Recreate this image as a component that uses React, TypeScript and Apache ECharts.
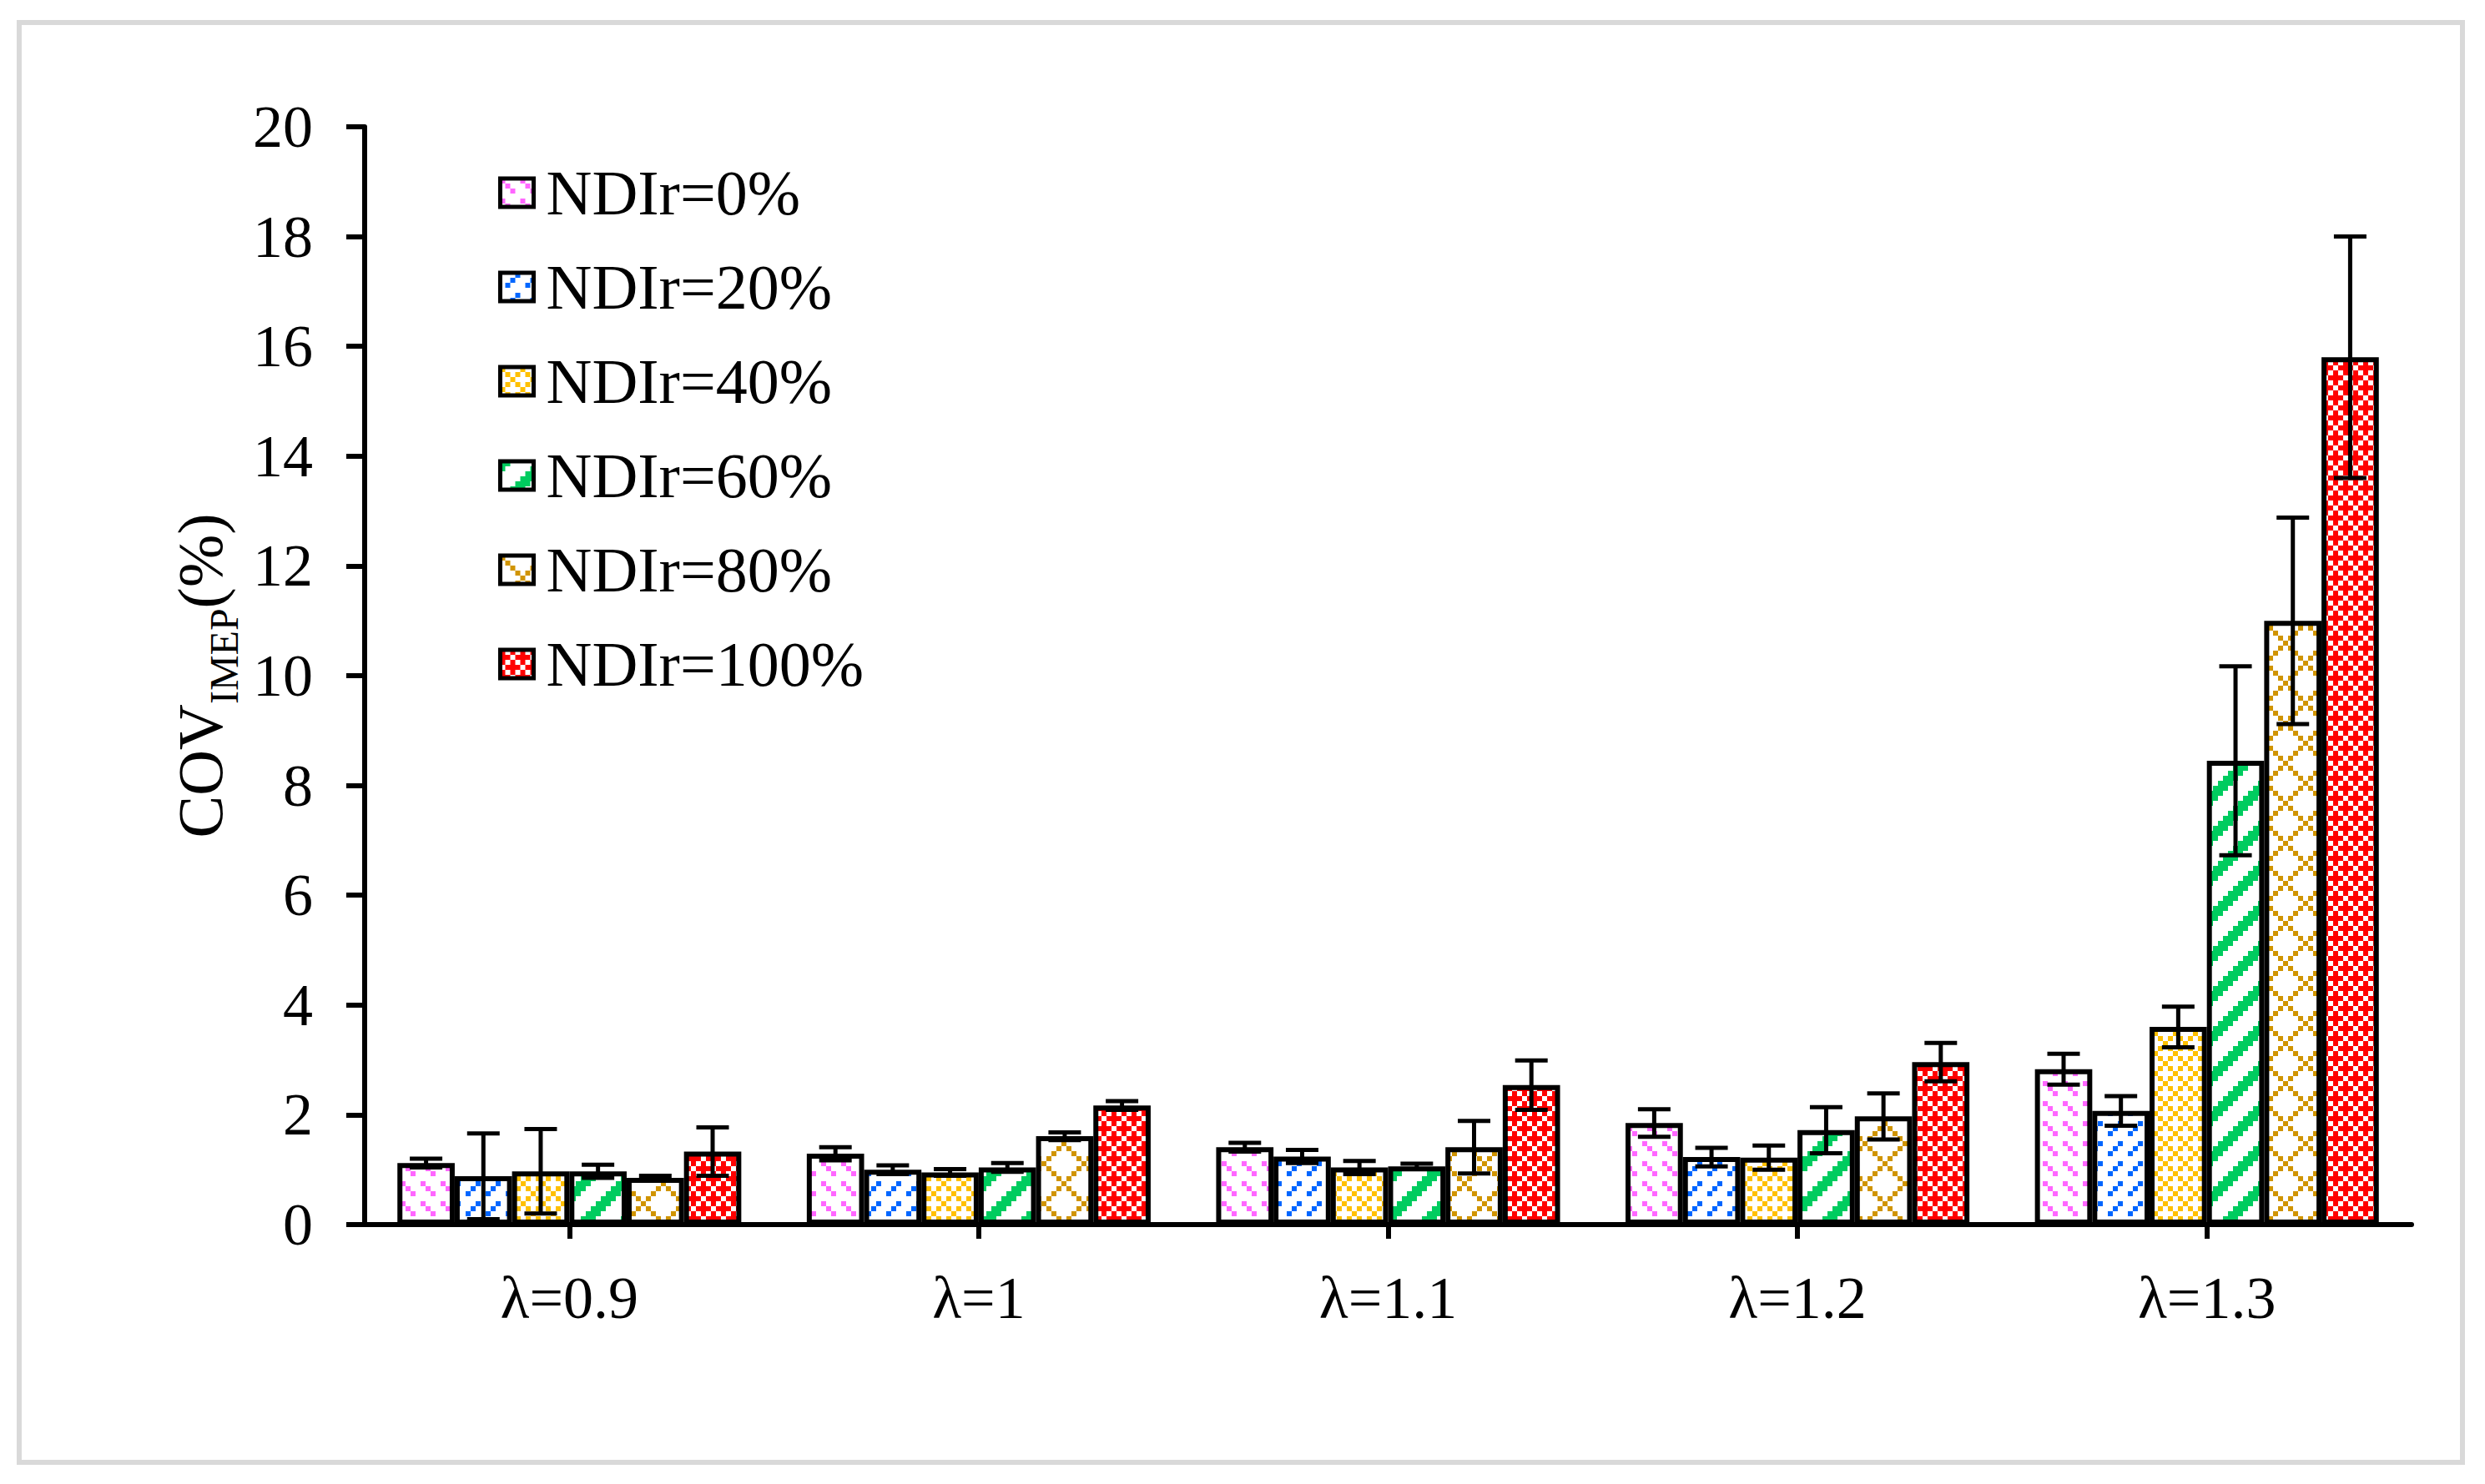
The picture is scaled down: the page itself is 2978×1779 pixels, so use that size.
import React, { useEffect, useRef } from 'react';
import * as echarts from 'echarts';

const categories = ['λ=0.9', 'λ=1', 'λ=1.1', 'λ=1.2', 'λ=1.3'];
const seriesNames = ['NDIr=0%', 'NDIr=20%', 'NDIr=40%', 'NDIr=60%', 'NDIr=80%', 'NDIr=100%'];

const ndir0 = [1.12, 1.29, 1.41, 1.85, 2.83];
const ndir20 = [0.88, 1.0, 1.24, 1.23, 2.07];
const ndir40 = [0.97, 0.95, 1.04, 1.22, 3.6];
const ndir60 = [0.97, 1.04, 1.06, 1.72, 8.45];
const ndir80 = [0.85, 1.61, 1.41, 1.97, 11.0];
const ndir100 = [1.33, 2.17, 2.54, 2.96, 15.8];

const err0 = [0.08, 0.12, 0.08, 0.25, 0.28];
const err20 = [0.78, 0.08, 0.12, 0.17, 0.27];
const err40 = [0.77, 0.06, 0.12, 0.22, 0.37];
const err60 = [0.12, 0.08, 0.05, 0.42, 1.72];
const err80 = [0.04, 0.07, 0.48, 0.42, 1.88];
const err100 = [0.44, 0.08, 0.45, 0.35, 2.2];

const yTicks = { min: 0, max: 20, interval: 2 };

const FONT = '"Liberation Serif", "Times New Roman", serif';

const colors = ['#ff66ff', '#0066ff', '#ffc000', '#00cc5f', '#d09400', '#ff0000'];

const bitmaps: string[][] = [
  ['X...X...', '.X...X..', '..X...X.', '........', 'X...X...', '.X...X..', '..X...X.', '........'],
  ['...X...X', '..X...X.', '.X...X..', '........', '...X...X', '..X...X.', '.X...X..', '........'],
  ['X...X...', '.X.X.X.X', '..X...X.', '.X.X.X.X', 'X...X...', '.X.X.X.X', '..X...X.', '.X.X.X.X'],
  ['XX.....X', 'X.....XX', '.....XXX', '....XXX.', '...XXX..', '..XXX...', '.XXX....', 'XXX.....'],
  ['X.......', '.X.....X', '..X...X.', '...X.X..', '....X...', '...X.X..', '..X...X.', '.X.....X'],
  ['X.X.X.X.', 'XX.XXX.X', 'X.X.X.X.', '.XXX.XXX', 'X.X.X.X.', 'XX.XXX.X', 'X.X.X.X.', '.XXX.XXX'],
];

function makePattern(color: string, bm: string[]) {
  const px = 6;
  const n = 8;
  const c = document.createElement('canvas');
  c.width = px * n;
  c.height = px * n;
  const ctx = c.getContext('2d')!;
  ctx.fillStyle = '#ffffff';
  ctx.fillRect(0, 0, c.width, c.height);
  ctx.fillStyle = color;
  for (let y = 0; y < n; y++) {
    for (let x = 0; x < n; x++) {
      if (bm[y][x] === 'X') ctx.fillRect(x * px, y * px, px, px);
    }
  }
  return { image: c, repeat: 'repeat', imageWidth: c.width, imageHeight: c.height };
}

const CAT_GAP = 0.16;

export default function App() {
  const ref = useRef<HTMLDivElement>(null);
  useEffect(() => {
    if (!ref.current) return;
    const chart = echarts.init(ref.current, null, { renderer: 'svg' });
    const values = [ndir0, ndir20, ndir40, ndir60, ndir80, ndir100];
    const errs = [err0, err20, err40, err60, err80, err100];
    const nSeries = values.length;

    const barSeries = values.map((vals, i) => ({
      type: 'bar',
      name: seriesNames[i],
      data: vals,
      barGap: '0%',
      barCategoryGap: CAT_GAP * 100 + '%',
      itemStyle: {
        color: makePattern(colors[i], bitmaps[i]),
        borderColor: '#000',
        borderWidth: 6,
      },
      emphasis: { disabled: true },
    }));

    const errData: number[][] = [];
    values.forEach((vals, si) => {
      vals.forEach((v, ci) => {
        errData.push([ci, v, errs[si][ci], si]);
      });
    });

    const option: any = {
      animation: false,
      backgroundColor: '#ffffff',
      graphic: [
        {
          type: 'rect',
          silent: true,
          z: -10,
          shape: { x: 23, y: 27, width: 2928, height: 1726 },
          style: { fill: 'none', stroke: '#d9d9d9', lineWidth: 6 },
        },
      ],
      grid: { left: 437, right: 88, top: 152, bottom: 311, containLabel: false },
      legend: {
        orient: 'vertical',
        left: 592,
        top: 181,
        data: seriesNames,
        itemWidth: 40,
        itemHeight: 34,
        itemGap: 23,
        icon: 'rect',
        itemStyle: { borderColor: '#000', borderWidth: 5 },
        textStyle: { fontFamily: FONT, fontSize: 76, color: '#000', lineHeight: 90, padding: [0, 0, 0, 10] },
        selectedMode: false,
      },
      xAxis: {
        type: 'category',
        data: categories,
        axisLine: { show: true, lineStyle: { color: '#000', width: 6 } },
        axisTick: { show: true, alignWithLabel: true, length: 17, lineStyle: { color: '#000', width: 6 } },
        axisLabel: { fontFamily: FONT, fontSize: 72, color: '#000', margin: 52 },
        splitLine: { show: false },
      },
      yAxis: {
        type: 'value',
        min: yTicks.min,
        max: yTicks.max,
        interval: yTicks.interval,
        axisLine: { show: true, lineStyle: { color: '#000', width: 6 } },
        axisTick: { show: true, length: 22, lineStyle: { color: '#000', width: 6 } },
        axisLabel: { fontFamily: FONT, fontSize: 72, color: '#000', margin: 62 },
        splitLine: { show: false },
        name: '{a|COV}{b|IMEP}{a|(%)}',
        nameLocation: 'middle',
        nameRotate: 90,
        nameGap: 140,
        nameTextStyle: {
          fontFamily: FONT,
          color: '#000',
          rich: {
            a: { fontFamily: FONT, fontSize: 76, color: '#000', verticalAlign: 'bottom', padding: [0, 0, 14, 0] },
            b: { fontFamily: FONT, fontSize: 48, color: '#000', verticalAlign: 'bottom' },
          },
        },
      },
      series: [
        ...barSeries,
        {
          type: 'custom',
          name: 'errorbars',
          data: errData,
          encode: { x: 0, y: 1 },
          z: 10,
          silent: true,
          renderItem: (params: any, api: any) => {
            const ci = api.value(0);
            const v = api.value(1);
            const e = api.value(2);
            const si = api.value(3);
            const center = api.coord([ci, v]);
            const band = api.size([1, 0])[0];
            const groupW = band * (1 - CAT_GAP);
            const bw = groupW / nSeries;
            const x = center[0] - groupW / 2 + (si + 0.5) * bw;
            const yTop = api.coord([ci, v + e])[1];
            const yBot = api.coord([ci, v - e])[1];
            const capHalf = 19.5;
            const style = { stroke: '#000', lineWidth: 5, fill: 'none' };
            return {
              type: 'group',
              children: [
                { type: 'line', shape: { x1: x, y1: yTop, x2: x, y2: yBot }, style },
                { type: 'line', shape: { x1: x - capHalf, y1: yTop, x2: x + capHalf, y2: yTop }, style },
                { type: 'line', shape: { x1: x - capHalf, y1: yBot, x2: x + capHalf, y2: yBot }, style },
              ],
            };
          },
        },
      ],
    };
    chart.setOption(option);
    return () => chart.dispose();
  }, []);
  return (
    <div
      ref={ref}
      style={{ position: 'fixed', left: 0, top: 0, width: 2978, height: 1779, background: '#fff' }}
    />
  );
}
